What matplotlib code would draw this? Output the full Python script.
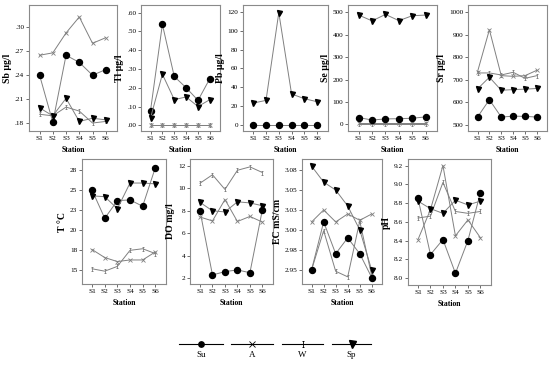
import numpy as np
import matplotlib
matplotlib.use('Agg')
import matplotlib.pyplot as plt
from matplotlib.path import Path
from matplotlib.lines import Line2D

# Data
stations = ['S1', 'S2', 'S3', 'S4', 'S5', 'S6']
seasons = ['Su', 'A', 'W', 'Sp']

sb_su = [0.240, 0.181, 0.265, 0.256, 0.240, 0.247]
sb_a = [0.265, 0.268, 0.293, 0.313, 0.280, 0.287]
sb_w = [0.191, 0.189, 0.200, 0.195, 0.180, 0.182]
sb_sp = [0.199, 0.189, 0.211, 0.182, 0.186, 0.184]

tl_su = [0.078, 0.537, 0.260, 0.200, 0.133, 0.249]
tl_a = [0.000, 0.000, 0.000, 0.000, 0.000, 0.000]
tl_w = [0.000, 0.000, 0.000, 0.000, 0.000, 0.000]
tl_sp = [0.039, 0.272, 0.137, 0.151, 0.100, 0.137]

pb_su = [0.5, 0.5, 0.5, 0.5, 0.5, 0.5]
pb_a = [0.0, 0.0, 0.0, 0.0, 0.0, 0.0]
pb_w = [0.0, 0.0, 0.0, 0.0, 0.0, 0.0]
pb_sp = [23.5, 26.3, 118.9, 33.1, 28.1, 24.9]

se_su = [30, 19, 24, 25, 27, 33]
se_a = [4, 4, 4, 4, 4, 4]
se_w = [2, 2, 2, 2, 2, 2]
se_sp = [488, 462, 491, 463, 485, 488]

sr_su = [534, 611, 534, 538, 537, 534]
sr_a = [735, 922, 718, 715, 718, 742]
sr_w = [730, 730, 721, 733, 706, 718]
sr_sp = [659, 711, 653, 656, 658, 661]

t_su = [25.0, 21.5, 23.7, 23.8, 23.0, 27.8]
t_a = [17.6, 16.6, 16.1, 16.3, 16.3, 17.3]
t_w = [15.2, 14.9, 15.5, 17.5, 17.7, 17.1]
t_sp = [24.3, 24.2, 22.7, 25.9, 25.9, 25.8]

do_su = [8.0, 2.3, 2.6, 2.75, 2.5, 8.1]
do_a = [7.45, 7.1, 9.0, 7.05, 7.5, 7.0]
do_w = [10.45, 11.2, 9.9, 11.6, 11.9, 11.4]
do_sp = [8.75, 8.0, 7.9, 8.8, 8.7, 8.45]

ec_su = [2.950, 3.010, 2.970, 2.990, 2.970, 2.940]
ec_a = [3.010, 3.025, 3.010, 3.020, 3.012, 3.020]
ec_w = [2.950, 2.999, 2.948, 2.941, 3.011, 2.942]
ec_sp = [3.080, 3.060, 3.050, 3.030, 3.000, 2.949]

ph_su = [8.85, 8.25, 8.41, 8.05, 8.40, 8.91]
ph_a = [8.41, 8.73, 9.20, 8.45, 8.62, 8.43]
ph_w = [8.64, 8.66, 9.02, 8.71, 8.69, 8.71]
ph_sp = [8.82, 8.74, 8.69, 8.83, 8.78, 8.82]

################################################################
plt.rcParams['font.family'] = ['Liberation Serif', 'DejaVu Serif']
grey = '#808080'

# "I" shaped marker for W
iMarker = Path([(-0.45, 1), (0.45, 1), (0, 1), (0, -1), (-0.45, -1), (0.45, -1)],
               [Path.MOVETO, Path.LINETO, Path.MOVETO, Path.LINETO, Path.MOVETO, Path.LINETO])

styles = {
'Su': dict(marker='o', ms=4.3, mfc='black', mec='black'),
'A': dict(marker='x', ms=2.8, mfc='none', mec=grey, mew=0.6),
'W': dict(marker=iMarker, ms=3.2, mfc='none', mec=grey, mew=0.6),
'Sp': dict(marker='v', ms=3.6, mfc='black', mec='black'),
}
legScale = {'Su': 0.9, 'A': 1.5, 'W': 1.3, 'Sp': 1.4}

W, H = 550, 368
fig = plt.figure(figsize=(W / 100, H / 100), dpi=100)

def axRect(x0, x1, y0, y1):
    # pixel box -> figure fraction
    return [x0 / W, 1 - y1 / H, (x1 - x0) / W, (y1 - y0) / H]

def makePanel(rect, data, ylabel, ylim, yticks, yticklabels):
    ax = fig.add_axes(axRect(*rect))
    x = np.arange(1, 7)
    for name in ['A', 'W', 'Su', 'Sp']:
        ax.plot(x, data[name], color=grey, lw=0.7, **styles[name])
    ax.set_xlim(0.2, 6.85)
    ax.set_ylim(*ylim)
    ax.set_xticks(x)
    ax.set_xticklabels(stations)
    ax.set_yticks(yticks)
    ax.set_yticklabels(yticklabels)
    for s in ax.spines.values():
        s.set_color('#8a8a8a')
        s.set_linewidth(0.8)
    ax.tick_params(length=2, width=0.6, color='#555555', labelsize=5.2, pad=1.5)
    ax.set_xlabel('Station', fontsize=5.6, fontweight='bold', labelpad=4)
    ax.set_ylabel(ylabel, fontsize=7, fontweight='bold', labelpad=2)
    return ax

makePanel((29, 117, 5, 131), {'Su': sb_su, 'A': sb_a, 'W': sb_w, 'Sp': sb_sp}, 'Sb µg/l',
          (0.170, 0.328), [.18, .21, .24, .27, .30], ['.18', '.21', '.24', '.27', '.30'])
makePanel((141, 220, 5, 131), {'Su': tl_su, 'A': tl_a, 'W': tl_w, 'Sp': tl_sp}, 'Tl µg/l',
          (-0.03, 0.64), np.arange(0, 0.61, 0.1), ['.00', '.10', '.20', '.30', '.40', '.50', '.60'])
makePanel((243, 328, 5, 131), {'Su': pb_su, 'A': pb_a, 'W': pb_w, 'Sp': pb_sp}, 'Pb µg/l',
          (-6, 127), np.arange(0, 121, 20), [str(v) for v in range(0, 121, 20)])
makePanel((348, 437, 5, 131), {'Su': se_su, 'A': se_a, 'W': se_w, 'Sp': se_sp}, 'Se µg/l',
          (-30, 533), np.arange(0, 501, 100), [str(v) for v in range(0, 501, 100)])
makePanel((468, 547, 5, 131), {'Su': sr_su, 'A': sr_a, 'W': sr_w, 'Sp': sr_sp}, 'Sr µg/l',
          (472, 1032), np.arange(500, 1001, 100), [str(v) for v in range(500, 1001, 100)])

makePanel((82, 166, 159, 284), {'Su': t_su, 'A': t_a, 'W': t_w, 'Sp': t_sp}, 'T °C',
          (13.3, 28.9), [15, 17.5, 20, 22.5, 25, 27.5], ['15', '18', '20', '23', '25', '28'])
makePanel((190, 273, 159, 284), {'Su': do_su, 'A': do_a, 'W': do_w, 'Sp': do_sp}, 'DO mg/l',
          (1.5, 12.6), np.arange(2, 13, 2), [str(v) for v in range(2, 13, 2)])
makePanel((302, 382, 159, 284), {'Su': ec_su, 'A': ec_a, 'W': ec_w, 'Sp': ec_sp}, 'EC mS/cm',
          (2.932, 3.089), [2.95, 2.975, 3.0, 3.025, 3.05, 3.075],
          ['2.95', '2.98', '3.00', '3.03', '3.05', '3.08'])
makePanel((408, 491, 159, 285), {'Su': ph_su, 'A': ph_a, 'W': ph_w, 'Sp': ph_sp}, 'pH',
          (7.925, 9.27), np.arange(8.0, 9.21, 0.2), ['8.0', '8.2', '8.4', '8.6', '8.8', '9.0', '9.2'])

# Legend strip at the bottom
legY = 1 - 344 / H
legSpans = [(179, 223), (231, 273), (282, 323), (332, 371)]
for name, (x0, x1) in zip(seasons, legSpans):
    fig.add_artist(Line2D([x0 / W, x1 / W], [legY, legY], transform=fig.transFigure,
                          color='black', lw=0.8))
    st = dict(styles[name])
    st['mec'] = 'black'
    st['ms'] = st['ms'] * legScale[name]
    fig.add_artist(Line2D([(x0 + x1) / 2 / W], [legY], transform=fig.transFigure,
                          linestyle='none', **st))
    fig.text((x0 + x1) / 2 / W, 1 - 355 / H, name, ha='center', va='center', fontsize=6.5)

fig.savefig('out.png', dpi=100)
